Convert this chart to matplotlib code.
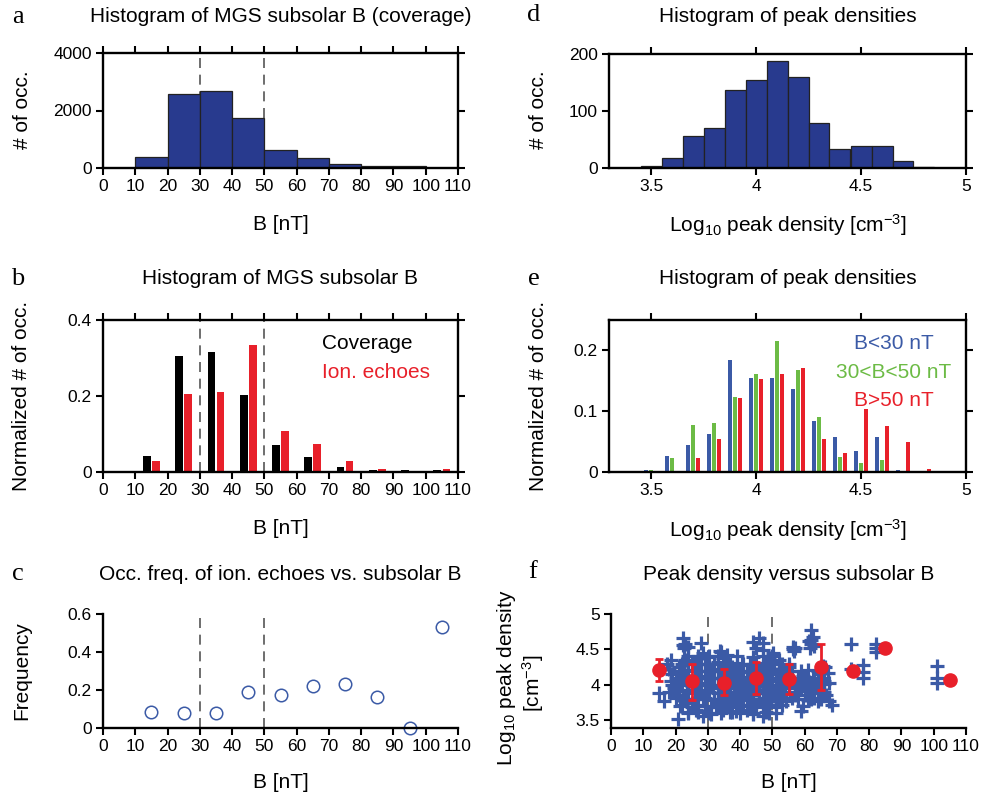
import matplotlib
matplotlib.use('Agg')
import matplotlib.pyplot as plt
from matplotlib.ticker import FormatStrFormatter

plt.rcParams['font.family'] = ['Liberation Sans', 'DejaVu Sans']
plt.rcParams['mathtext.default'] = 'regular'

# ---- data ----
# a: coverage histogram of subsolar B
a_edges = [10, 20, 30, 40, 50, 60, 70, 80, 90]
a_counts = [385, 2580, 2695, 1740, 630, 340, 130, 58, 55]

# b: normalized histograms
b_centers = [5, 15, 25, 35, 45, 55, 65, 75, 85, 95, 105]
b_cov = [0.0, 0.043, 0.305, 0.316, 0.203, 0.072, 0.040, 0.014, 0.006, 0.006, 0.004]
b_ion = [0.001, 0.030, 0.204, 0.211, 0.334, 0.109, 0.074, 0.028, 0.007, 0.001, 0.009]

# c: occurrence frequency
c_B = [15, 25, 35, 45, 55, 65, 75, 85, 95, 105]
c_freq = [0.082, 0.079, 0.079, 0.192, 0.175, 0.219, 0.233, 0.164, 0.0, 0.532]

# d: peak density histogram
d_left = [3.45, 3.55, 3.65, 3.75, 3.85, 3.95, 4.05, 4.15, 4.25, 4.35, 4.45, 4.55, 4.65, 4.75]
d_counts = [3.5, 18, 56, 70, 136, 155, 187, 159, 79, 33, 39, 39, 13, 1]

# e: normalized peak density histograms by B range
e_centers = [3.4, 3.5, 3.6, 3.7, 3.8, 3.9, 4.0, 4.1, 4.2, 4.3, 4.4, 4.5, 4.6, 4.7, 4.8]
e_low = [0.001, 0.004, 0.027, 0.045, 0.063, 0.185, 0.154, 0.154, 0.136, 0.084, 0.058, 0.035, 0.058, 0.004, 0.0]
e_mid = [0.0, 0.004, 0.023, 0.077, 0.081, 0.123, 0.162, 0.216, 0.167, 0.090, 0.025, 0.015, 0.019, 0.002, 0.001]
e_high = [0.001, 0.0, 0.0, 0.023, 0.054, 0.122, 0.153, 0.162, 0.171, 0.054, 0.032, 0.104, 0.076, 0.050, 0.005]

# f: individual peak densities vs B (outline of the cloud)
f_B = [15.0, 16.5, 17.5, 18.0, 18.6, 18.5, 19.0, 19.5, 20.7, 20.5, 21.0, 21.0, 21.5, 22.0,
       22.2, 22.2, 22.5, 23.0, 23.8, 23.5, 24.0, 24.0, 22.5, 23.0, 24.5, 25.0,
       26.0, 26.3, 26.5, 27.0, 27.5, 27.9, 28.4, 28.4, 28.0, 28.5, 29.0, 29.5, 30.0, 30.5,
       30.5, 30.5, 31.0, 31.5, 32.0, 32.0, 32.5, 33.0, 33.5, 33.8, 34.1, 34.6, 34.6, 34.0,
       35.0, 35.0,
       36.0, 36.0, 36.5, 37.0, 37.5, 37.5, 38.0, 38.7, 38.5, 39.0, 39.5, 40.0, 40.0, 40.5,
       41.0, 41.5, 42.0, 42.0, 42.5, 43.0, 43.5, 43.9, 43.9, 44.0, 44.5, 44.9, 45.0, 45.0,
       46.0, 46.0, 46.5, 47.0, 47.0, 47.0, 47.0, 47.5, 48.0, 48.5, 49.1, 49.1, 49.0, 49.5,
       50.1, 50.1, 50.0, 50.5, 51.0, 51.5, 52.0, 52.0, 52.5, 53.0, 53.0, 54.2, 54.0, 55.0, 55.0,
       56.5, 56.8, 57.0, 56.3, 56.0, 57.0, 58.0, 58.9, 59.4, 59.0, 59.5, 60.0, 60.5,
       61.5, 62.0, 62.0, 62.5, 62.0, 63.0, 61.8, 61.0, 62.0, 62.5, 63.5, 64.0, 64.5, 65.0,
       65.6, 66.0, 67.1, 67.6, 67.6, 66.5, 66.3, 68.4,
       74.4, 74.4, 78.2, 78.2, 78.2, 82.1, 82.1, 82.1, 100.9, 100.9, 100.9]
f_n = [3.88, 3.77, 4.30, 4.22, 4.35, 4.05, 4.15, 3.95, 3.52, 3.85, 4.00, 4.25, 3.70, 4.10,
       4.56, 4.66, 4.52, 4.58, 4.54, 3.92, 4.20, 3.62, 3.80, 4.35, 4.05, 3.75,
       4.30, 3.65, 4.10, 3.90, 4.20, 4.59, 4.45, 3.56, 4.00, 3.80, 4.30, 3.70, 4.10, 4.40,
       3.60, 3.90, 4.20, 4.00, 3.80, 4.30, 3.68, 4.10, 3.95, 4.48, 4.47, 4.38, 3.65, 4.20,
       3.85, 4.05,
       4.30, 3.75, 4.15, 3.95, 3.62, 4.25, 4.05, 3.63, 3.85, 4.20, 3.95, 4.10, 3.72, 4.30,
       3.85, 4.00, 4.20, 3.65, 3.90, 4.10, 3.78, 3.60, 4.61, 4.30, 3.98, 4.52, 4.15, 3.70,
       4.66, 3.88, 4.05, 4.59, 4.49, 3.56, 4.25, 3.75, 4.10, 3.95, 4.38, 3.60, 4.20, 3.80,
       4.45, 3.84, 4.05, 4.30, 3.95, 4.15, 3.78, 4.35, 4.05, 3.90, 4.20, 3.77, 4.10, 3.95, 4.25,
       4.50, 4.48, 4.52, 4.53, 4.10, 3.85, 4.00, 3.63, 3.70, 3.95, 4.12, 3.85, 4.05,
       4.62, 4.63, 4.58, 4.68, 4.77, 4.55, 4.52, 3.95, 3.80, 4.10, 4.00, 3.77, 4.15, 3.90,
       4.26, 4.05, 4.17, 4.02, 3.77, 3.85, 4.25, 3.72,
       4.58, 4.22, 4.28, 4.18, 4.10, 4.58, 4.52, 4.47, 4.26, 4.09, 4.02]

# f: points inside the dense part of the cloud
f_B2 = [22, 25, 27, 29, 31, 33, 35, 37, 39, 41, 43, 45, 47, 49, 51, 53,
        20, 23, 26, 29, 32, 34, 36, 38, 40, 42, 44, 46, 48, 51, 53, 56, 58, 61, 63, 65,
        18, 21, 24, 26, 28, 30, 33, 35, 37, 39, 41, 43, 45, 47, 49, 52, 54, 57, 60, 63, 66,
        19, 22, 25, 27, 29, 31, 33, 36, 38, 40, 42, 44, 46, 48, 50, 53, 55, 57, 59, 62, 64, 66,
        20, 23, 26, 28, 30, 32, 34, 37, 39, 41, 43, 45, 47, 49, 51, 53, 55, 58, 60, 63, 65,
        21, 24, 27, 29, 31, 33, 35, 38, 40, 42, 44, 46, 48, 50, 52, 54, 56, 59, 61, 64,
        22, 25, 28, 30, 33, 35, 37, 39, 41, 43, 45, 48, 50, 53, 55,
        24, 27, 30, 33, 36, 39, 44, 47, 50,
        24, 27, 31, 34, 37, 40, 44, 48, 51]
f_n2 = [3.71, 3.69, 3.72, 3.70, 3.68, 3.71, 3.70, 3.72, 3.69, 3.70, 3.71, 3.68, 3.70, 3.72, 3.69, 3.71,
        3.81, 3.79, 3.80, 3.82, 3.78, 3.80, 3.81, 3.79, 3.80, 3.82, 3.80, 3.79, 3.81, 3.80, 3.78, 3.81, 3.80, 3.79, 3.82, 3.80,
        3.90, 3.91, 3.89, 3.90, 3.92, 3.90, 3.88, 3.91, 3.90, 3.89, 3.91, 3.90, 3.92, 3.89, 3.90, 3.91, 3.89, 3.90, 3.91, 3.89, 3.90,
        4.00, 4.01, 3.99, 4.00, 4.02, 4.00, 3.99, 4.01, 4.00, 3.98, 4.01, 4.00, 4.02, 3.99, 4.00, 4.01, 3.99, 4.00, 4.02, 3.99, 4.00, 4.01,
        4.10, 4.11, 4.09, 4.10, 4.12, 4.10, 4.09, 4.11, 4.10, 4.08, 4.11, 4.10, 4.12, 4.09, 4.10, 4.11, 4.09, 4.10, 4.11, 4.09, 4.10,
        4.20, 4.21, 4.19, 4.20, 4.22, 4.20, 4.19, 4.21, 4.20, 4.18, 4.21, 4.20, 4.22, 4.19, 4.20, 4.21, 4.19, 4.20, 4.21, 4.19,
        4.30, 4.31, 4.29, 4.30, 4.32, 4.30, 4.29, 4.31, 4.30, 4.28, 4.31, 4.30, 4.32, 4.29, 4.30,
        4.40, 4.41, 4.39, 4.40, 4.42, 4.40, 4.39, 4.41, 4.40,
        3.60, 3.61, 3.59, 3.60, 3.62, 3.60, 3.59, 3.61, 3.60]

# f: binned means with spread
fm_B = [15, 25, 35, 45, 55, 65, 75, 85, 105]
fm_n = [4.21, 4.05, 4.03, 4.10, 4.08, 4.245, 4.20, 4.52, 4.07]
fm_lo = [4.05, 3.78, 3.85, 3.875, 3.87, 3.92, 4.14, 4.52, 4.07]
fm_hi = [4.37, 4.30, 4.23, 4.32, 4.30, 4.57, 4.26, 4.52, 4.07]

navy = '#283a8e'
red = '#e8202a'
blue = '#3b5aa6'
green = '#6cbb45'
dash = '#555555'

W, H = 993.0, 797.0
fig = plt.figure(figsize=(W / 100, H / 100), dpi=100)


def px_axes(l, t, r, b):
    return fig.add_axes([l / W, 1 - b / H, (r - l) / W, (b - t) / H])


def style(ax, box=True):
    for s in ['left', 'bottom', 'top', 'right']:
        ax.spines[s].set_linewidth(1.7)
    if box:
        ax.tick_params(top=True, right=True)
    else:
        ax.spines['top'].set_visible(False)
        ax.spines['right'].set_visible(False)
    ax.tick_params(direction='out', length=5, width=1.5, labelsize=12.5, pad=3)
    ax.yaxis.set_major_formatter(FormatStrFormatter('%g'))
    ax.xaxis.set_major_formatter(FormatStrFormatter('%g'))


def ftext(x, y, s, **kw):
    kw.setdefault('fontsize', 15)
    kw.setdefault('ha', 'center')
    kw.setdefault('va', 'center')
    fig.text(x / W, 1 - y / H, s, **kw)


# ---- a ----
ax = px_axes(103, 53, 458, 168)
ax.plot([30, 30], [0, 4000], color=dash, lw=1.2, dashes=(6, 4), zorder=1)
ax.plot([50, 50], [0, 4000], color=dash, lw=1.2, dashes=(6, 4), zorder=1)
ax.bar(a_edges, a_counts, width=10, align='edge', color=navy, edgecolor='#222222', lw=0.9, zorder=2)
ax.set_xlim(0, 110)
ax.set_ylim(0, 4000)
ax.set_xticks(range(0, 111, 10))
ax.set_yticks([0, 2000, 4000])
style(ax)

# ---- b ----
ax = px_axes(103, 320, 458, 472)
ax.plot([30, 30], [0, 0.4], color=dash, lw=1.2, dashes=(6, 4))
ax.plot([50, 50], [0, 0.4], color=dash, lw=1.2, dashes=(6, 4))
ax.bar([c - 1.4 for c in b_centers], b_cov, width=2.4, color='black', zorder=2)
ax.bar([c + 1.4 for c in b_centers], b_ion, width=2.4, color=red, zorder=2)
ax.set_xlim(0, 110)
ax.set_ylim(0, 0.4)
ax.set_xticks(range(0, 111, 10))
ax.set_yticks([0, 0.2, 0.4])
style(ax)

# ---- c ----
ax = px_axes(103, 614, 458, 728)
ax.plot([30, 30], [0, 0.6], color=dash, lw=1.2, dashes=(6, 4))
ax.plot([50, 50], [0, 0.6], color=dash, lw=1.2, dashes=(6, 4))
ax.plot(c_B, c_freq, 'o', ms=9, mfc='none', mec=blue, mew=1.1, clip_on=False)
ax.set_xlim(0, 110)
ax.set_ylim(0, 0.6)
ax.set_xticks(range(0, 111, 10))
ax.set_yticks([0, 0.2, 0.4, 0.6])
style(ax, box=False)

# ---- d ----
ax = px_axes(609, 54, 966, 168)
ax.bar(d_left, d_counts, width=0.1, align='edge', color=navy, edgecolor='#222222', lw=0.9)
ax.set_xlim(3.3, 5)
ax.set_ylim(0, 200)
ax.set_xticks([3.5, 4, 4.5, 5])
ax.set_yticks([0, 100, 200])
style(ax)

# ---- e ----
ax = px_axes(609, 320, 966, 472)
ax.bar([c - 0.024 for c in e_centers], e_low, width=0.017, color=blue)
ax.bar(e_centers, e_mid, width=0.017, color=green)
ax.bar([c + 0.024 for c in e_centers], e_high, width=0.017, color=red)
ax.set_xlim(3.3, 5)
ax.set_ylim(0, 0.25)
ax.set_xticks([3.5, 4, 4.5, 5])
ax.set_yticks([0, 0.1, 0.2])
style(ax)

# ---- f ----
ax = px_axes(611, 614, 966, 728)
ax.plot([30, 30], [3.4, 5], color=dash, lw=1.2, dashes=(6, 4), zorder=1)
ax.plot([50, 50], [3.4, 5], color=dash, lw=1.2, dashes=(6, 4), zorder=1)
ax.plot(f_B, f_n, '+', color=blue, ms=10.5, mew=2.3, zorder=2)
ax.plot(f_B2, f_n2, '+', color=blue, ms=10.5, mew=2.3, zorder=2)
ax.errorbar(fm_B, fm_n,
            yerr=[[m - l for m, l in zip(fm_n, fm_lo)], [h - m for m, h in zip(fm_n, fm_hi)]],
            fmt='o', color=red, ms=9.5, elinewidth=2, capsize=3, capthick=2, zorder=3)
ax.set_xlim(0, 110)
ax.set_ylim(3.39, 5)
ax.set_xticks(range(0, 111, 10))
ax.set_yticks([3.5, 4, 4.5, 5])
style(ax, box=False)

# ---- titles, labels, letters ----
ftext(280.5, 17, 'Histogram of MGS subsolar B (coverage)')
ftext(280.5, 279, 'Histogram of MGS subsolar B')
ftext(280.5, 574, 'Occ. freq. of ion. echoes vs. subsolar B')
ftext(787.5, 17, 'Histogram of peak densities')
ftext(787.5, 279, 'Histogram of peak densities')
ftext(788.5, 574, 'Peak density versus subsolar B')

ftext(280.5, 225, 'B [nT]')
ftext(280.5, 528, 'B [nT]')
ftext(280.5, 783, 'B [nT]')
ftext(787.5, 225, r'Log$_{10}$ peak density [cm$^{-3}$]')
ftext(787.5, 530, r'Log$_{10}$ peak density [cm$^{-3}$]')
ftext(788.5, 783, 'B [nT]')

ftext(23, 110, '# of occ.', rotation=90)
ftext(22, 396, 'Normalized # of occ.', rotation=90)
ftext(22, 671, 'Frequency', rotation=90)
ftext(538, 110, '# of occ.', rotation=90)
ftext(538, 396, 'Normalized # of occ.', rotation=90)
ftext(507, 678, r'Log$_{10}$ peak density', rotation=90)
ftext(533, 683, r'[cm$^{-3}$]', rotation=90)

ftext(322, 344, 'Coverage', ha='left', color='black')
ftext(322, 372, 'Ion. echoes', ha='left', color=red)
ftext(894, 344, 'B<30 nT', color=blue)
ftext(894, 372, '30<B<50 nT', color=green)
ftext(894, 400, 'B>50 nT', color=red)

for x, y, s in [(18, 17, 'a'), (18, 279, 'b'), (18, 574, 'c'),
                (534, 15, 'd'), (534, 279, 'e'), (533, 572, 'f')]:
    ftext(x, y, s, fontsize=19, family=['Liberation Serif', 'DejaVu Serif'])

fig.savefig('out.png', dpi=100)
